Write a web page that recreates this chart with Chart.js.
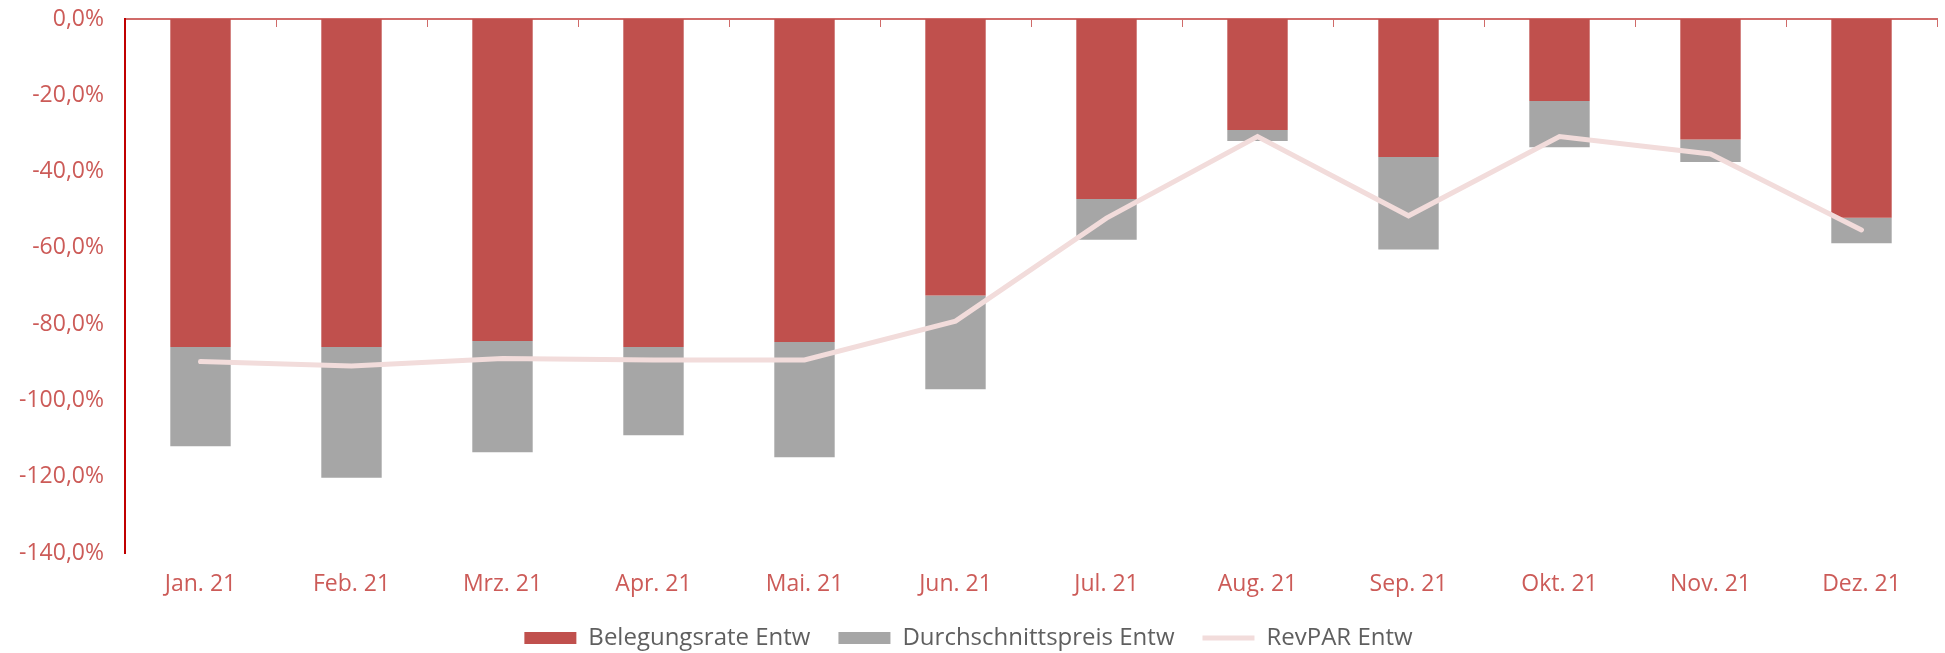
<!DOCTYPE html>
<html>
<head>
<meta charset="utf-8">
<script src="https://cdn.jsdelivr.net/npm/chart.js@4"></script>
<style>
  html, body { margin: 0; padding: 0; background: #fff; }
  #wrap { width: 1945px; height: 653px; }
</style>
</head>
<body>
<div id="wrap"><canvas id="revparChart"></canvas></div>
<script>
const months = ['Jan. 21', 'Feb. 21', 'Mrz. 21', 'Apr. 21', 'Mai. 21', 'Jun. 21', 'Jul. 21', 'Aug. 21', 'Sep. 21', 'Okt. 21', 'Nov. 21', 'Dez. 21'];
const belegungsrate = [-86.0, -86.0, -84.4, -86.0, -84.7, -72.5, -47.2, -29.1, -36.2, -21.5, -31.6, -52.1];
const durchschnittspreis = [-26.0, -34.3, -29.2, -23.1, -30.2, -24.6, -10.7, -2.9, -24.2, -12.1, -5.9, -6.7];
const revpar = [-89.8, -91.0, -89.0, -89.4, -89.4, -79.2, -52.2, -30.8, -51.6, -30.8, -35.4, -55.3];

const redText = '#CC5B58';
const tickFont = { family: 'Open Sans', size: 23, lineHeight: 1 };

document.addEventListener('DOMContentLoaded', () => {
    const ctx = document.getElementById('revparChart');

    new Chart(ctx, {
        type: 'bar',
        data: {
            labels: months,
            datasets: [
                {
                    label: 'Belegungsrate Entw',
                    data: belegungsrate,
                    backgroundColor: '#C0504D',
                    pointStyle: 'rect',
                    order: 1
                },
                {
                    label: 'Durchschnittspreis Entw',
                    data: durchschnittspreis,
                    backgroundColor: '#A6A6A6',
                    pointStyle: 'rect',
                    order: 1
                },
                {
                    type: 'line',
                    label: 'RevPAR Entw',
                    data: revpar,
                    stack: 'line',
                    borderColor: '#F2DCDB',
                    backgroundColor: '#F2DCDB',
                    borderWidth: 5,
                    borderCapStyle: 'round',
                    pointRadius: 0,
                    pointStyle: 'line',
                    tension: 0,
                    order: 0 // drawn above the bars
                }
            ]
        },
        options: {
            responsive: true,
            maintainAspectRatio: false,
            animation: false,
            layout: { padding: { top: 0, right: 8, left: 0, bottom: -7 } },
            datasets: {
                bar: { categoryPercentage: 1, barPercentage: 0.4 }
            },
            scales: {
                // month labels sit below the plot
                x: {
                    stacked: true,
                    position: 'bottom',
                    grid: { display: false, drawTicks: false },
                    border: { display: false },
                    ticks: { color: redText, font: tickFont, padding: 20 },
                    afterFit: scale => { scale.height = 45; }
                },
                // zero line at the top with small tick marks between months
                xTop: {
                    type: 'category',
                    labels: months,
                    position: 'top',
                    grid: {
                        offset: true,
                        drawOnChartArea: false,
                        color: '#D06B69',
                        tickLength: -8
                    },
                    border: { color: '#D06B69', width: 2 },
                    ticks: { display: false },
                    afterFit: scale => { scale.height = 19; }
                },
                y: {
                    stacked: true,
                    min: -140,
                    max: 0,
                    ticks: {
                        stepSize: 20,
                        color: redText,
                        font: tickFont,
                        padding: 21,
                        callback: v => v.toFixed(1).replace('.', ',') + '%'
                    },
                    grid: { display: false, drawTicks: false },
                    border: { color: '#C00000', width: 2 },
                    afterFit: scale => {
                        scale.width = 125;
                        scale.paddingTop = 0;
                        scale.paddingBottom = 0;
                    }
                }
            },
            plugins: {
                legend: {
                    display: true,
                    position: 'bottom',
                    labels: {
                        usePointStyle: true,
                        pointStyleWidth: 52,
                        boxHeight: 12,
                        color: '#5F5F5F',
                        font: { family: 'Open Sans', size: 24 },
                        padding: 28,
                        sort: (a, b) => a.datasetIndex - b.datasetIndex
                    }
                },
                tooltip: { enabled: false }
            }
        }
    });
});
</script>
</body>
</html>
